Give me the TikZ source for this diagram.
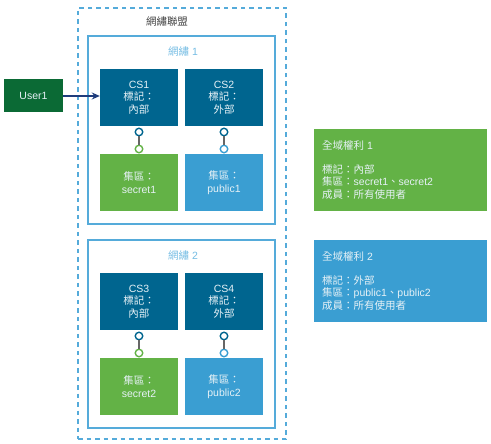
\documentclass[tikz,border=0pt]{standalone}
\usepackage{fontspec}
\setmainfont{Liberation Sans}
\newfontfamily\cjk{Noto Sans CJK TC}
\usetikzlibrary{arrows.meta}
\definecolor{csdark}{HTML}{00658F}
\definecolor{grn}{HTML}{63B246}
\definecolor{blu}{HTML}{3A9ED2}
\definecolor{usergrn}{HTML}{0B6A35}
\definecolor{frame}{HTML}{55ABDA}
\definecolor{ttl}{HTML}{74BCE3}
\definecolor{navy}{HTML}{1E3C7C}
\definecolor{txt}{HTML}{E6F1F6}
\tikzset{
  fnt/.style={font=\fontsize{10.5}{12.5}\selectfont},
  csbox/.style={fill=csdark, draw=none, minimum width=78pt, minimum height=57pt, inner sep=0pt, text=txt, align=center, fnt},
  grnbox/.style={fill=grn, draw=none, minimum width=78pt, minimum height=57pt, inner sep=0pt, text=txt, align=center, fnt},
  blubox/.style={fill=blu, draw=none, minimum width=78pt, minimum height=57pt, inner sep=0pt, text=txt, align=center, fnt},
  dot/.style={circle, fill=white, line width=1.4pt, minimum size=7.5pt, inner sep=0pt},
  link/.style={draw=gray!80!black, line width=1.1pt},
  zone/.style={draw=frame, line width=1.3pt, minimum width=187pt, minimum height=188pt, inner sep=0pt},
  infobox/.style={draw=none, minimum width=173pt, minimum height=82pt, inner sep=0pt},
  infotxt/.style={text=txt, anchor=north west, align=left, inner sep=0pt, fnt},
}
\begin{document}
\begin{tikzpicture}[x=1pt,y=-1pt]
\useasboundingbox (0,0) rectangle (491,444);
% outer federation
\node[draw=frame, line width=1.3pt, dash pattern=on 4.5pt off 4pt, minimum width=208pt, minimum height=431pt, inner sep=0pt] (fed) at (182,223.5) {};
\node[fnt, text=black!75] (fedt) at (167,22) {\cjk 網繡聯盟};
% zone 1
\node[zone] (z1) at (181.5,130) {};
\node[fnt, text=ttl] (z1t) at (183,52) {{\cjk 網繡} 1};
\node[csbox] (cs1) at (139,97.5) {CS1\\{\cjk 標記：}\\{\cjk 內部}};
\node[csbox] (cs2) at (224,97.5) {CS2\\{\cjk 標記：}\\{\cjk 外部}};
\node[grnbox] (s1) at (139,182.5) {{\cjk 集區：}\\secret1};
\node[blubox] (p1) at (224,182.5) {{\cjk 集區：}\\public1};
\node[dot, draw=csdark] (c1t) at (139,132) {};
\node[dot, draw=grn] (c1b) at (139,149) {};
\node[dot, draw=csdark] (c2t) at (224,132) {};
\node[dot, draw=blu] (c2b) at (224,149) {};
\draw[link] (c1t) -- (c1b);
\draw[link] (c2t) -- (c2b);
% zone 2
\node[zone] (z2) at (181.5,334) {};
\node[fnt, text=ttl] (z2t) at (183,256) {{\cjk 網繡} 2};
\node[csbox] (cs3) at (139,301.5) {CS3\\{\cjk 標記：}\\{\cjk 內部}};
\node[csbox] (cs4) at (224,301.5) {CS4\\{\cjk 標記：}\\{\cjk 外部}};
\node[grnbox] (s2) at (139,386.5) {{\cjk 集區：}\\secret2};
\node[blubox] (p2) at (224,386.5) {{\cjk 集區：}\\public2};
\node[dot, draw=csdark] (c3t) at (139,336) {};
\node[dot, draw=grn] (c3b) at (139,353) {};
\node[dot, draw=csdark] (c4t) at (224,336) {};
\node[dot, draw=blu] (c4b) at (224,353) {};
\draw[link] (c3t) -- (c3b);
\draw[link] (c4t) -- (c4b);
% user
\node[fill=usergrn, minimum width=59pt, minimum height=33pt, inner sep=0pt, text=txt, fnt] (u1) at (33.5,95.5) {User1};
\draw[navy, line width=1.3pt, -{Stealth[length=8pt,width=7pt]}] (u1.east |- 0,96) coordinate (ua) -- (ua -| cs1.west);
% info boxes
\node[infobox, fill=grn] (g1) at (400.5,170) {};
\node[infotxt] (g1t) at (322,140) {{\cjk 全域權利} 1};
\node[infotxt] (g1b) at (322,164) {{\cjk 標記：內部}\\{\cjk 集區：}secret1{\cjk 、}secret2\\{\cjk 成員：所有使用者}};
\node[infobox, fill=blu] (g2) at (400.5,281) {};
\node[infotxt] (g2t) at (322,251) {{\cjk 全域權利} 2};
\node[infotxt] (g2b) at (322,275) {{\cjk 標記：外部}\\{\cjk 集區：}public1{\cjk 、}public2\\{\cjk 成員：所有使用者}};
\end{tikzpicture}
\end{document}
